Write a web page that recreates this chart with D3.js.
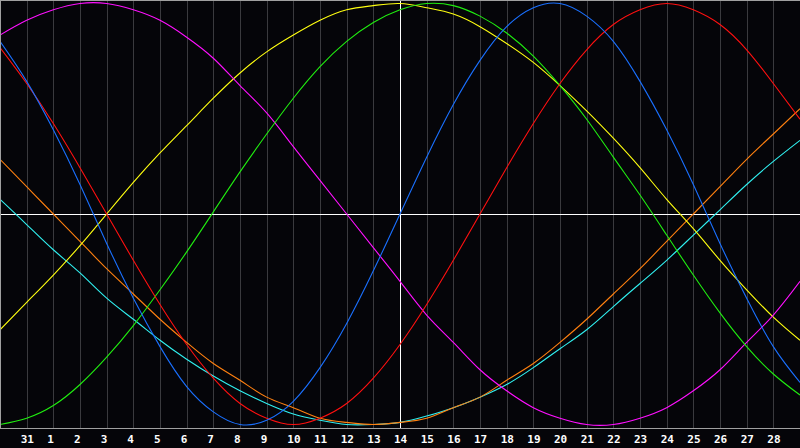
<!DOCTYPE html>
<html>
<head>
<meta charset="utf-8">
<script src="https://cdn.jsdelivr.net/npm/d3@7"></script>
<style>
  html, body { margin: 0; padding: 0; background: #050509; }
  svg { display: block; }
</style>
</head>
<body>
<div id="wrapper"></div>
<script>
// day of month at each column (index 0 and 30 sit on the chart edges)
const days = [30, 31, 1, 2, 3, 4, 5, 6, 7, 8, 9, 10, 11, 12, 13, 14, 15, 16, 17, 18, 19, 20, 21, 22, 23, 24, 25, 26, 27, 28, 29]
const todayIndex = 15

// cycle values in percent, one per column
const physical = [82, 63, 40, 14, -14, -40, -63, -82, -94, -100, -98, -89, -73, -52, -27, 0, 27, 52, 73, 89, 98, 100, 94, 82, 63, 40, 14, -14, -40, -63, -80]
const emotional = [79, 62, 43, 22, 0, -22, -43, -62, -78, -90, -97, -100, -97, -90, -78, -62, -43, -22, 0, 22, 43, 62, 78, 90, 97, 100, 97, 90, 78, 62, 45]
const intellectual = [-100, -97, -91, -81, -68, -53, -36, -18, 1, 20, 38, 55, 70, 82, 91, 97, 100, 99, 94, 86, 75, 61, 45, 27, 9, -10, -29, -47, -63, -76, -86]
const intuitive = [85, 92, 97, 100, 100, 97, 92, 84, 74, 61, 48, 32, 16, 0, -16, -32, -48, -61, -74, -84, -92, -97, -100, -100, -97, -92, -84, -74, -61, -48, -32]
const aesthetic = [-55, -42, -29, -15, 0, 15, 29, 42, 55, 67, 77, 85, 92, 97, 99, 100, 98, 95, 89, 81, 72, 61, 49, 36, 22, 7, -7, -22, -36, -49, -60]
const awareness = [26, 13, 0, -13, -26, -38, -50, -61, -71, -79, -87, -92, -97, -99, -100, -99, -97, -92, -87, -79, -71, -61, -50, -38, -26, -13, 0, 13, 26, 38, 50]
const spiritual = [7, -5, -17, -28, -40, -50, -60, -69, -77, -84, -90, -95, -98, -100, -100, -99, -96, -92, -87, -81, -73, -64, -55, -44, -33, -22, -10, 2, 14, 25, 35]

const cycles = [
  { name: "spiritual", values: spiritual, color: "#30f0f0" },
  { name: "awareness", values: awareness, color: "#ff8010" },
  { name: "aesthetic", values: aesthetic, color: "#ffff10" },
  { name: "intuitive", values: intuitive, color: "#ff10ff" },
  { name: "intellectual", values: intellectual, color: "#20ee10" },
  { name: "emotional", values: emotional, color: "#ff1010" },
  { name: "physical", values: physical, color: "#1a70ff" },
]

function drawChart() {
  const dimensions = {
    width: 800,
    height: 448,
    plotBottom: 428,
  }

  const svg = d3
    .select("#wrapper")
    .append("svg")
    .attr("width", dimensions.width)
    .attr("height", dimensions.height)
    .style("background", "#050509")

  const xScale = d3
    .scaleLinear()
    .domain([0, days.length - 1])
    .range([0, dimensions.width])

  const yScale = d3.scaleLinear().domain([-100, 100]).range([424.5, 3.5])

  const px = (v) => Math.round(v) + 0.5

  // day grid
  svg
    .append("g")
    .selectAll("line")
    .data(d3.range(1, days.length - 1))
    .join("line")
    .attr("x1", (i) => px(xScale(i)))
    .attr("x2", (i) => px(xScale(i)))
    .attr("y1", 0)
    .attr("y2", dimensions.plotBottom)
    .attr("stroke", "#3a3a3e")
    .attr("shape-rendering", "crispEdges")

  // zero line and today marker
  svg
    .append("line")
    .attr("x1", 0)
    .attr("x2", dimensions.width)
    .attr("y1", px(yScale(0)))
    .attr("y2", px(yScale(0)))
    .attr("stroke", "#ffffff")
    .attr("shape-rendering", "crispEdges")

  svg
    .append("line")
    .attr("x1", px(xScale(todayIndex)))
    .attr("x2", px(xScale(todayIndex)))
    .attr("y1", 0)
    .attr("y2", dimensions.plotBottom)
    .attr("stroke", "#ffffff")
    .attr("shape-rendering", "crispEdges")

  // curves
  const lineGenerator = d3
    .line()
    .x((d, i) => xScale(i))
    .y((d) => yScale(d))
    .curve(d3.curveNatural)

  svg
    .append("g")
    .selectAll("path")
    .data(cycles)
    .join("path")
    .attr("d", (d) => lineGenerator(d.values))
    .attr("fill", "none")
    .attr("stroke", (d) => d.color)
    .attr("stroke-width", 1.1)

  // frame
  svg
    .append("path")
    .attr(
      "d",
      `M${dimensions.width},0.5H0.5V${dimensions.plotBottom + 0.5}H${dimensions.width}`
    )
    .attr("fill", "none")
    .attr("stroke", "#a0a0a0")
    .attr("shape-rendering", "crispEdges")

  // day labels
  svg
    .append("g")
    .selectAll("text")
    .data(d3.range(1, days.length - 1))
    .join("text")
    .attr("x", (i) => xScale(i) - 6)
    .attr("y", 443)
    .text((i) => days[i])
    .attr("fill", "#ffffff")
    .style("font-family", "DejaVu Sans Mono, monospace")
    .style("font-weight", "bold")
    .style("font-size", "11px")
}
drawChart()
</script>
</body>
</html>
